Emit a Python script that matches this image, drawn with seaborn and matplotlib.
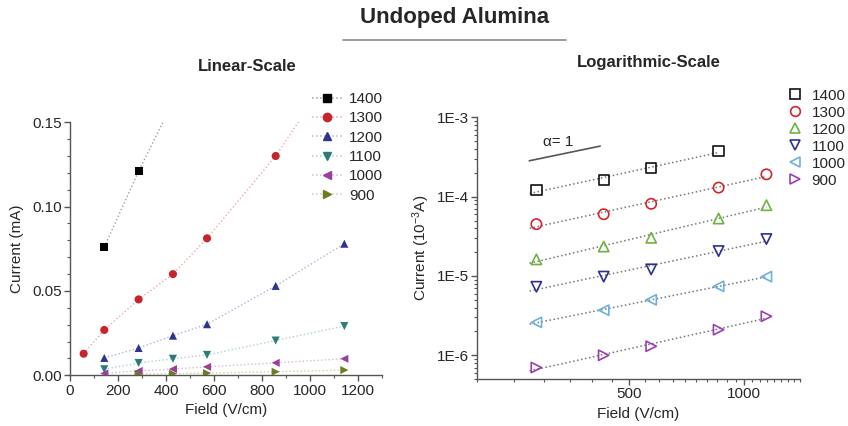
import numpy as np
import pandas as pd
import matplotlib
matplotlib.use("Agg")
import matplotlib.pyplot as plt
from matplotlib.lines import Line2D
from matplotlib.ticker import MultipleLocator, FixedLocator, LogLocator, FuncFormatter, NullFormatter
import seaborn as sns

# ---- data: current (mA) vs field (V/cm) for each sintering temperature ----
temperatures = ["1400", "1300", "1200", "1100", "1000", "900"]
field = [57, 143, 286, 429, 571, 857, 1143]
current_1400 = [np.nan, 0.076, 0.121, 0.162, 0.228, 0.377, np.nan]
current_1300 = [0.0128, 0.0269, 0.0450, 0.0600, 0.0812, 0.1300, 0.191]
current_1200 = [np.nan, 0.0103, 0.0162, 0.0235, 0.0303, 0.0530, 0.0780]
current_1100 = [np.nan, 0.0036, 0.0073, 0.0098, 0.0121, 0.0206, 0.0292]
current_1000 = [np.nan, 0.0011, 0.0026, 0.0037, 0.0050, 0.0074, 0.0098]
current_900 = [np.nan, np.nan, 0.0007, 0.0010, 0.0013, 0.0021, 0.0031]
series = dict(zip(temperatures, [current_1400, current_1300, current_1200,
                                 current_1100, current_1000, current_900]))

# slope-one guide for the log-log panel
alpha_x = [274, 420]
alpha_y0 = 2.83e-4

rows = []
for t, vals in series.items():
    for f, c in zip(field, vals):
        if not np.isnan(c):
            rows.append({"temp": t, "field": f, "current": c})
df = pd.DataFrame(rows)
df["current_A"] = df["current"] * 1e-3

markers = dict(zip(temperatures, ["s", "o", "^", "v", "<", ">"]))
lin_colors = dict(zip(temperatures, ["#000000", "#c8242b", "#2d3590", "#2e7b7a", "#9a3f9c", "#6e7b1f"]))
lin_line_colors = dict(zip(temperatures, ["#a0a0a0", "#f0a8a8", "#b0b4dc", "#b0d0d0", "#dcb8dc", "#ccd0a0"]))
log_colors = dict(zip(temperatures, ["#111111", "#d0262c", "#6db33f", "#2e3192", "#6cb2da", "#9a40b2"]))

sns.set_theme(style="ticks")
plt.rcParams["font.family"] = ["Liberation Sans", "DejaVu Sans"]
plt.rcParams["mathtext.default"] = "regular"

fig = plt.figure(figsize=(8.48, 4.26), dpi=100)
ax1 = fig.add_axes([0.0825, 0.119, 0.368, 0.594])
ax2 = fig.add_axes([0.5625, 0.110, 0.381, 0.6146])

axis_color = "#555555"
for ax in (ax1, ax2):
    sns.despine(ax=ax)
    for side in ("left", "bottom"):
        ax.spines[side].set_color(axis_color)
        ax.spines[side].set_linewidth(1.0)
    ax.tick_params(which="major", direction="out", length=4, width=1, color=axis_color,
                   labelsize=11, pad=2)
    ax.tick_params(which="minor", direction="out", length=2.5, width=0.8, color=axis_color)
    ax.grid(False)

# ---- linear panel ----
sns.lineplot(data=df, x="field", y="current", hue="temp", hue_order=temperatures,
             palette=lin_line_colors, estimator=None, sort=True, linestyle=":",
             linewidth=1.0, legend=False, ax=ax1)
sns.scatterplot(data=df, x="field", y="current", hue="temp", hue_order=temperatures,
                style="temp", style_order=temperatures, markers=markers,
                palette=lin_colors, s=34, linewidth=0, legend=False, ax=ax1, zorder=3)
ax1.set_xlim(0, 1300)
ax1.set_ylim(0, 0.15)
ax1.xaxis.set_major_locator(FixedLocator([0, 200, 400, 600, 800, 1000, 1200]))
ax1.xaxis.set_minor_locator(MultipleLocator(100))
ax1.yaxis.set_major_locator(FixedLocator([0, 0.05, 0.10, 0.15]))
ax1.yaxis.set_minor_locator(MultipleLocator(0.01))
ax1.yaxis.set_major_formatter(FuncFormatter(lambda v, p: f"{v:.2f}"))
ax1.set_xlabel("Field (V/cm)", fontsize=11, labelpad=4)
ax1.set_ylabel("Current (mA)", fontsize=11, labelpad=6)

lin_handles = [Line2D([], [], color=lin_line_colors[t], linestyle=":", linewidth=1.1,
                      marker=markers[t], markersize=6, markerfacecolor=lin_colors[t],
                      markeredgecolor=lin_colors[t]) for t in temperatures]
leg1 = ax1.legend(lin_handles, temperatures, loc="upper left", bbox_to_anchor=(0.75, 1.15),
                  frameon=True, fontsize=11, handlelength=2.0, handletextpad=0.45,
                  labelspacing=0.35, borderpad=0.5, borderaxespad=0)
leg1.get_frame().set_facecolor("white")
leg1.get_frame().set_edgecolor("none")
leg1.get_frame().set_alpha(1)

# ---- logarithmic panel ----
df_log = df[df["field"] >= 200].copy()
fit_rows = []
for t in temperatures:
    sub = df_log[df_log["temp"] == t]
    k, b = np.polyfit(np.log10(sub["field"]), np.log10(sub["current_A"]), 1)
    xs = np.array([sub["field"].min() * 0.96, sub["field"].max()])
    for xv in xs:
        fit_rows.append({"temp": t, "field": xv, "current_A": 10 ** (b + k * np.log10(xv))})
df_fit = pd.DataFrame(fit_rows)

sns.lineplot(data=df_fit, x="field", y="current_A", units="temp", estimator=None,
             color="#777777", linestyle=":", linewidth=1.1, legend=False, ax=ax2)
sns.scatterplot(data=df_log, x="field", y="current_A", hue="temp", hue_order=temperatures,
                style="temp", style_order=temperatures, markers=markers,
                palette=log_colors, s=55, legend=False, ax=ax2, zorder=3)
pts = ax2.collections[-1]
pts.set_edgecolors(pts.get_facecolors())
pts.set_facecolors("none")
pts.set_linewidth(1.2)

ax2.set_xscale("log")
ax2.set_yscale("log")
ax2.set_xlim(200, 1400)
ax2.set_ylim(5e-7, 1e-3)
ax2.xaxis.set_major_locator(FixedLocator([500, 1000]))
ax2.xaxis.set_major_formatter(FuncFormatter(lambda v, p: f"{v:.0f}"))
ax2.xaxis.set_minor_locator(MultipleLocator(50))
ax2.xaxis.set_minor_formatter(NullFormatter())
ax2.yaxis.set_major_locator(FixedLocator([1e-6, 1e-5, 1e-4, 1e-3]))
ax2.yaxis.set_major_formatter(FuncFormatter(lambda v, p: f"1E{int(round(np.log10(v)))}"))
ax2.yaxis.set_minor_locator(LogLocator(base=10, subs=np.arange(2, 10)))
ax2.yaxis.set_minor_formatter(NullFormatter())
ax2.set_xlabel("Field (V/cm)", fontsize=11, labelpad=4)
ax2.set_ylabel("Current (10$^{-3}$A)", fontsize=11, labelpad=3)

alpha_y = [alpha_y0 * (x / alpha_x[0]) for x in alpha_x]
ax2.plot(alpha_x, alpha_y, color="#555555", linewidth=1.2)
ax2.text(327, 4.9e-4, "\u03b1= 1", fontsize=11, ha="center", va="center")

log_handles = [Line2D([], [], linestyle="none", marker=markers[t], markersize=7,
                      markerfacecolor="none", markeredgecolor=log_colors[t],
                      markeredgewidth=1.2) for t in temperatures]
ax2.legend(log_handles, temperatures, loc="upper left", bbox_to_anchor=(0.96, 1.11),
           frameon=False, fontsize=11, handlelength=1.0, handletextpad=0.6,
           labelspacing=0.2, borderpad=0, borderaxespad=0)

# ---- titles ----
fig.text(0.536, 0.958, "Undoped Alumina", ha="center", va="center",
         fontsize=16, fontweight="bold")
fig.add_artist(Line2D([0.4045, 0.6675], [0.906, 0.906], color="#8a8a8a", linewidth=1.2))
fig.text(0.291, 0.845, "Linear-Scale", ha="center", va="center", fontsize=12, fontweight="bold")
fig.text(0.765, 0.854, "Logarithmic-Scale", ha="center", va="center", fontsize=12,
         fontweight="bold")

fig.savefig("out.png", dpi=100)
